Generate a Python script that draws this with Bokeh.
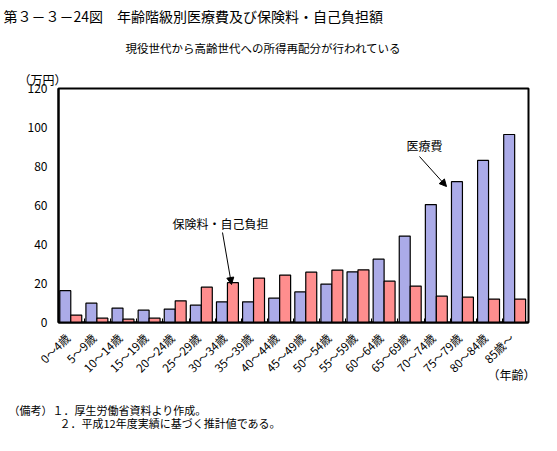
from bokeh.plotting import figure
from bokeh.models import Range1d, FixedTicker, Label, Arrow, NormalHead, ColumnDataSource, Title
from bokeh.embed import file_html
from bokeh.resources import INLINE
import math

# ---- data ----
ages = ["0～4歳", "5～9歳", "10～14歳", "15～19歳", "20～24歳", "25～29歳", "30～34歳",
        "35～39歳", "40～44歳", "45～49歳", "50～54歳", "55～59歳", "60～64歳", "65～69歳",
        "70～74歳", "75～79歳", "80～84歳", "85歳～"]
medical = [16.3, 9.9, 7.4, 6.3, 6.9, 8.9, 10.6, 10.6, 12.5, 15.7, 19.7, 26.0, 32.5,
           44.3, 60.5, 72.2, 83.1, 96.4]
premium = [3.8, 2.2, 1.7, 2.2, 11.1, 18.1, 20.4, 22.8, 24.3, 25.8, 26.9, 27.0, 21.2,
           18.7, 13.5, 13.0, 12.0, 12.0]
y_ticks = [0, 20, 40, 60, 80, 100, 120]

FONT = "Noto Sans CJK JP"
n = len(ages)

FRAME_W, FRAME_H = 470, 234
LEFT, TOP, RIGHT, BOTTOM = 58, 88, 21, 121

p = figure(width=LEFT + FRAME_W + RIGHT, height=TOP + FRAME_H + BOTTOM,
           frame_width=FRAME_W, frame_height=FRAME_H,
           x_range=Range1d(0, n), y_range=Range1d(0, 120),
           output_backend="svg", toolbar_location=None,
           min_border_left=LEFT, min_border_right=RIGHT,
           min_border_top=TOP, min_border_bottom=BOTTOM)

src = ColumnDataSource(dict(
    xb=[i + 0.26 for i in range(n)],
    xr=[i + 0.68 for i in range(n)],
    medical=medical, premium=premium))

p.vbar(x="xb", top="medical", bottom=0, width=0.42, source=src,
       fill_color="#ABABE8", line_color="black", line_width=1.2)
p.vbar(x="xr", top="premium", bottom=0, width=0.42, source=src,
       fill_color="#FF8E8E", line_color="black", line_width=1.2)

# axes
p.xgrid.visible = False
p.ygrid.visible = False
p.outline_line_color = "black"
p.outline_line_width = 2
p.background_fill_color = "white"
p.border_fill_color = "white"

xa = p.xaxis[0]
label_pos = [i + 0.35 for i in range(n)]
xa.ticker = FixedTicker(ticks=label_pos, minor_ticks=list(range(n + 1)))
xa.major_label_overrides = {lp: a for lp, a in zip(label_pos, ages)}
xa.major_label_orientation = math.pi / 4
xa.major_tick_in = 0
xa.major_tick_out = 0
xa.minor_tick_in = 4
xa.minor_tick_out = 0
xa.minor_tick_line_color = "black"
xa.axis_line_width = 2
xa.axis_line_color = "black"
xa.major_label_text_font = FONT
xa.major_label_text_font_size = "11.5px"
xa.major_label_text_color = "black"
xa.major_label_standoff = 13

ya = p.yaxis[0]
ya.ticker = FixedTicker(ticks=y_ticks)
ya.major_tick_in = 0
ya.major_tick_out = 0
ya.minor_tick_in = 0
ya.minor_tick_out = 0
ya.axis_line_width = 2
ya.axis_line_color = "black"
ya.major_label_text_font = FONT
ya.major_label_text_font_size = "12px"
ya.major_label_text_color = "black"
ya.major_label_standoff = 11


def title(txt, size, offset, side, align="left", standoff=0, valign="bottom"):
    p.add_layout(Title(text=txt, text_font=FONT, text_font_size=size,
                       text_font_style="normal", text_color="black",
                       align=align, offset=offset, standoff=standoff,
                       vertical_align=valign), side)


# above (first added = nearest the frame)
title("（万円）", "12px", -40, "above", standoff=2)
title("現役世代から高齢世代への所得再配分が行われている", "11.5px", 67, "above", standoff=24)
title("第３－３－24図　年齢階級別医療費及び保険料・自己負担額", "14px", -55, "above",
      standoff=-4, valign="top")

# below (first added = nearest the frame)
title("（年齢）", "12px", -7, "below", align="right", standoff=-38, valign="top")
title("（備考）１．厚生労働省資料より作成。", "11px", -50, "below", standoff=35, valign="top")
title("２．平成12年度実績に基づく推計値である。", "11px", 1, "below", standoff=-45, valign="top")


def fx(px):
    return (px - LEFT) / FRAME_W * n


def fy(py):
    return ((TOP + FRAME_H) - py) / FRAME_H * 120


def add_text(px, py, txt, size, align="left"):
    p.add_layout(Label(x=fx(px), y=fy(py), text=txt, text_font=FONT,
                       text_font_size=size, text_align=align,
                       text_baseline="middle", text_color="black"))


add_text(220, 223, "保険料・自己負担", "12px", "center")
add_text(424, 145, "医療費", "12px", "center")

p.add_layout(Arrow(end=NormalHead(size=7, fill_color="black", line_color="black"),
                   x_start=fx(222), y_start=fy(232), x_end=fx(231), y_end=fy(284),
                   line_color="black", line_width=1))
p.add_layout(Arrow(end=NormalHead(size=7, fill_color="black", line_color="black"),
                   x_start=fx(419), y_start=fy(156), x_end=fx(446), y_end=fy(186),
                   line_color="black", line_width=1))

open("out.html", "w").write(file_html(p, INLINE))
